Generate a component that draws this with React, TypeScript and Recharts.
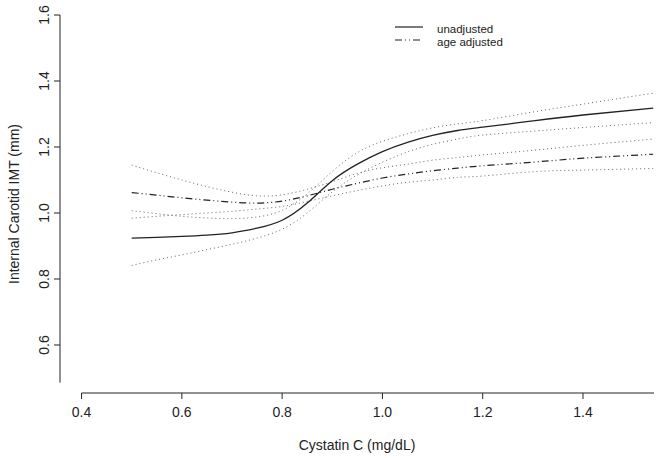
import { LineChart, Line, XAxis, YAxis, ReferenceLine } from 'recharts';

// cystatin C grid (mg/dL)
const cystatin = [0.5, 0.55, 0.6, 0.65, 0.7, 0.75, 0.8, 0.85, 0.9, 0.95, 1.0, 1.05, 1.1, 1.15, 1.2, 1.3, 1.4, 1.54];

const unadjusted = [0.924, 0.926, 0.929, 0.933, 0.94, 0.954, 0.978, 1.03, 1.098, 1.148, 1.186, 1.214, 1.235, 1.25, 1.26, 1.279, 1.297, 1.318];
const unadjustedUpper = [1.007, 0.998, 0.99, 0.985, 0.983, 0.988, 1.008, 1.058, 1.126, 1.183, 1.217, 1.24, 1.258, 1.27, 1.28, 1.306, 1.33, 1.363];
const unadjustedLower = [0.841, 0.858, 0.873, 0.889, 0.905, 0.924, 0.951, 1.0, 1.064, 1.115, 1.154, 1.185, 1.208, 1.224, 1.236, 1.248, 1.259, 1.274];

const ageAdjusted = [1.062, 1.054, 1.046, 1.039, 1.033, 1.03, 1.036, 1.052, 1.072, 1.09, 1.106, 1.118, 1.128, 1.136, 1.143, 1.154, 1.166, 1.178];
const ageAdjustedUpper = [1.145, 1.122, 1.1, 1.08, 1.063, 1.052, 1.055, 1.072, 1.095, 1.12, 1.137, 1.148, 1.16, 1.168, 1.176, 1.19, 1.205, 1.224];
const ageAdjustedLower = [0.984, 0.99, 0.995, 1.0, 1.005, 1.012, 1.02, 1.035, 1.052, 1.068, 1.082, 1.093, 1.1, 1.108, 1.112, 1.125, 1.13, 1.135];

const xTicks = [0.4, 0.6, 0.8, 1.0, 1.2, 1.4];
const yTicks = [0.6, 0.8, 1.0, 1.2, 1.4, 1.6];

const data = cystatin.map((x, i) => ({
  x,
  un: unadjusted[i],
  unHi: unadjustedUpper[i],
  unLo: unadjustedLower[i],
  adj: ageAdjusted[i],
  adjHi: ageAdjustedUpper[i],
  adjLo: ageAdjustedLower[i],
}));

const FONT = '"Liberation Sans", Arial, sans-serif';
const INK = '#222';
const DOT = '#666';
const DASHDOT = '7 3 1 3 1 3';

const X_MIN = 0.357;
const X_MAX = 1.5416;
const Y_MIN = 0.4545;
const Y_MAX = 1.6;

const YTick = ({ x, y, payload }: any) => {
  const bx = x - 1;
  return (
    <text
      x={bx}
      y={y}
      transform={`rotate(-90, ${bx}, ${y})`}
      textAnchor="middle"
      fontSize={14}
      fontFamily={FONT}
      fill={INK}
    >
      {Number(payload.value).toFixed(1)}
    </text>
  );
};

const YTitle = ({ viewBox }: any) => {
  const cy = viewBox ? viewBox.y + viewBox.height / 2 : 204;
  return (
    <text
      x={18.5}
      y={cy}
      transform={`rotate(-90, 18.5, ${cy})`}
      textAnchor="middle"
      fontSize={14}
      fontFamily={FONT}
      fill={INK}
    >
      Internal Carotid IMT (mm)
    </text>
  );
};

const XTitle = ({ viewBox }: any) => {
  const cx = viewBox ? viewBox.x + viewBox.width / 2 : 357;
  return (
    <text x={cx} y={450} textAnchor="middle" fontSize={14} fontFamily={FONT} fill={INK}>
      Cystatin C (mg/dL)
    </text>
  );
};

export default function App() {
  return (
    <div style={{ position: 'absolute', left: 0, top: 0, width: 664, height: 458, background: '#fff' }}>
      <LineChart width={664} height={458} data={data} margin={{ top: 15, right: 10, bottom: 0, left: 0 }}>
        <XAxis
          dataKey="x"
          type="number"
          domain={[X_MIN, X_MAX]}
          ticks={xTicks}
          allowDataOverflow
          axisLine={false}
          tickSize={6}
          tickMargin={8}
          height={65}
          tickLine={{ stroke: INK }}
          tick={{ fill: INK, fontSize: 14, fontFamily: FONT }}
          tickFormatter={(v) => Number(v).toFixed(1)}
          label={{ content: XTitle }}
        />
        <YAxis
          type="number"
          domain={[Y_MIN, Y_MAX]}
          ticks={yTicks}
          allowDataOverflow
          width={60}
          axisLine={false}
          tickSize={6}
          tickMargin={4}
          tickLine={{ stroke: INK }}
          tick={YTick}
          label={{ content: YTitle }}
        />
        <ReferenceLine
          segment={[{ x: X_MIN, y: 0.486 }, { x: X_MIN, y: Y_MAX }]}
          stroke={INK}
          ifOverflow="visible"
        />
        <ReferenceLine
          segment={[{ x: 0.4, y: Y_MIN }, { x: X_MAX, y: Y_MIN }]}
          stroke={INK}
          ifOverflow="visible"
        />
        <Line dataKey="unHi" type="natural" stroke={DOT} strokeWidth={1} strokeDasharray="1 3" dot={false} isAnimationActive={false} />
        <Line dataKey="unLo" type="natural" stroke={DOT} strokeWidth={1} strokeDasharray="1 3" dot={false} isAnimationActive={false} />
        <Line dataKey="adjHi" type="natural" stroke={DOT} strokeWidth={1} strokeDasharray="1 3" dot={false} isAnimationActive={false} />
        <Line dataKey="adjLo" type="natural" stroke={DOT} strokeWidth={1} strokeDasharray="1 3" dot={false} isAnimationActive={false} />
        <Line dataKey="adj" type="natural" stroke={INK} strokeWidth={1.2} strokeDasharray={DASHDOT} dot={false} isAnimationActive={false} />
        <Line dataKey="un" type="natural" stroke={INK} strokeWidth={1.3} dot={false} isAnimationActive={false} />
      </LineChart>
      {/* legend, R style, top right inside the plot */}
      <svg width={664} height={60} style={{ position: 'absolute', left: 0, top: 0, pointerEvents: 'none' }}>
        <line x1={395} x2={423} y1={27} y2={27} stroke={INK} strokeWidth={1.2} />
        <line x1={395} x2={423} y1={40} y2={40} stroke={INK} strokeWidth={1.2} strokeDasharray={DASHDOT} />
        <text x={437} y={33} fontSize={11.5} fontFamily={FONT} fill={INK}>unadjusted</text>
        <text x={437} y={46} fontSize={11.5} fontFamily={FONT} fill={INK}>age adjusted</text>
      </svg>
    </div>
  );
}
